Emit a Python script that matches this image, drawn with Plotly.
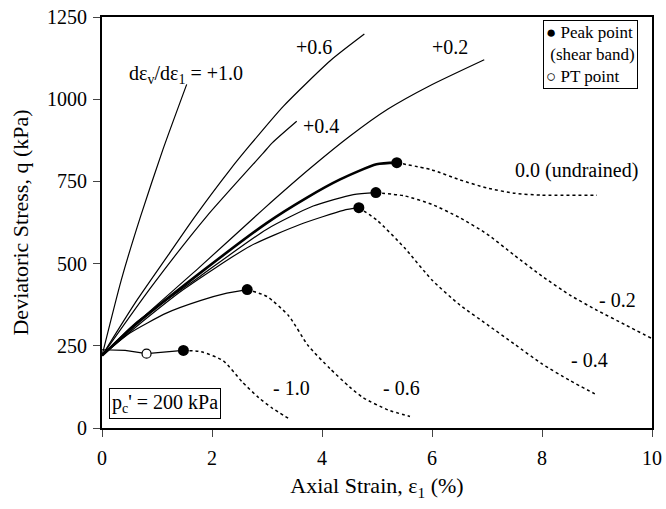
import plotly.graph_objects as go

# ---- data (axial strain %, deviatoric stress kPa) ----
p10_x = [0, 0.35, 0.7, 1.11, 1.54]
p10_q = [220, 450, 643, 848, 1045]

p06_x = [0, 0.6, 1.2, 1.69, 2.33, 2.69, 3.3, 4.15, 4.77]
p06_q = [220, 380, 525, 643, 786, 860, 979, 1117, 1198]

p04_x = [0, 0.9, 1.9, 2.93, 3.1, 3.54]
p04_q = [220, 430, 643, 836, 868, 933]

p02_x = [0, 0.6, 1.78, 2.93, 3.78, 4.51, 5.2, 5.96, 6.95]
p02_q = [220, 315, 490, 665, 789, 888, 970, 1041, 1120]

u00_x = [0, 0.57, 1.78, 3.0, 3.72, 4.33, 4.99, 5.36]
u00_q = [220, 309, 471, 624, 700, 756, 802, 807]
u00_post_x = [5.36, 6.0, 6.5, 7.0, 7.5, 8.0, 9.0]
u00_post_q = [807, 785, 755, 730, 714, 708, 708]

m02_x = [0, 0.6, 1.78, 2.99, 3.84, 4.57, 4.98]
m02_q = [220, 318, 461, 604, 675, 710, 716]
m02_post_x = [4.98, 5.5, 6.0, 6.5, 7.0, 7.5, 8.0, 8.5, 9.0, 9.5, 10.0]
m02_post_q = [716, 706, 680, 640, 590, 525, 462, 405, 358, 315, 272]

m04_x = [0, 0.6, 1.48, 2.69, 3.6, 4.39, 4.67]
m04_q = [220, 305, 421, 553, 619, 662, 670]
m04_post_x = [4.67, 5.0, 5.5, 6.0, 6.5, 7.0, 7.5, 8.0, 8.5, 8.96]
m04_post_q = [670, 632, 548, 450, 375, 315, 255, 195, 145, 104]

m06_x = [0, 0.5, 1.18, 1.8, 2.27, 2.64]
m06_q = [220, 288, 350, 388, 410, 421]
m06_post_x = [2.64, 3.0, 3.4, 3.75, 4.15, 4.5, 4.75, 5.2, 5.6]
m06_post_q = [421, 400, 340, 250, 180, 125, 92, 55, 35]

m10_x = [0, 0.42, 0.81, 1.48]
m10_q = [238, 236, 226, 236]
m10_post_x = [1.48, 1.8, 2.2, 2.55, 2.85, 3.1, 3.4]
m10_post_q = [236, 232, 205, 140, 92, 60, 28]

peak_x = [5.36, 4.98, 4.67, 2.64, 1.48]
peak_q = [807, 716, 670, 421, 236]
pt_x = [0.81]
pt_q = [226]

x_ticks = [0, 2, 4, 6, 8, 10]
y_ticks = [0, 250, 500, 750, 1000, 1250]

FONT = "Liberation Serif, Times New Roman, serif"

fig = go.Figure()

def solid(x, y, w=1.2):
    fig.add_trace(go.Scatter(x=x, y=y, mode="lines",
                             line=dict(color="black", width=w, shape="spline", smoothing=0.6),
                             showlegend=False, hoverinfo="skip"))

def dotted(x, y):
    fig.add_trace(go.Scatter(x=x, y=y, mode="lines",
                             line=dict(color="black", width=1.5, dash="dot", shape="spline", smoothing=0.6),
                             showlegend=False, hoverinfo="skip"))

solid(p10_x, p10_q)
solid(p06_x, p06_q)
solid(p04_x, p04_q)
solid(p02_x, p02_q)
solid(u00_x, u00_q, 2.6)
dotted(u00_post_x, u00_post_q)
solid(m02_x, m02_q)
dotted(m02_post_x, m02_post_q)
solid(m04_x, m04_q)
dotted(m04_post_x, m04_post_q)
solid(m06_x, m06_q)
dotted(m06_post_x, m06_post_q)
fig.add_trace(go.Scatter(x=m10_x, y=m10_q, mode="lines",
                         line=dict(color="black", width=1.2),
                         showlegend=False, hoverinfo="skip"))
dotted(m10_post_x, m10_post_q)

fig.add_trace(go.Scatter(x=peak_x, y=peak_q, mode="markers",
                         marker=dict(color="black", size=11),
                         showlegend=False, hoverinfo="skip"))
fig.add_trace(go.Scatter(x=pt_x, y=pt_q, mode="markers",
                         marker=dict(color="white", size=9, line=dict(color="black", width=1.2)),
                         showlegend=False, hoverinfo="skip"))

labels = [
    (0.45, 1076, "dε<sub>v</sub>/dε<sub>1</sub> = +1.0", "left"),
    (3.86, 1158, "+0.6", "center"),
    (6.33, 1158, "+0.2", "center"),
    (3.99, 918, "+0.4", "center"),
    (8.63, 782, "0.0 (undrained)", "center"),
    (9.37, 390, "- 0.2", "center"),
    (8.87, 207, "- 0.4", "center"),
    (5.45, 122, "- 0.6", "center"),
    (3.45, 122, "- 1.0", "center"),
]
for x, y, t, xa in labels:
    fig.add_annotation(x=x, y=y, text=t, showarrow=False, xanchor=xa, yanchor="middle",
                       font=dict(family=FONT, size=20, color="black"))

fig.add_annotation(x=1.15, y=76, text="p<sub>c</sub>' = 200 kPa", showarrow=False,
                   xanchor="center", yanchor="middle", bordercolor="black", borderwidth=1,
                   borderpad=2, bgcolor="white",
                   font=dict(family=FONT, size=20, color="black"))

fig.add_annotation(x=8.02, y=1241, text="● Peak point<br> (shear band)<br>○ PT point",
                   showarrow=False, xanchor="left", yanchor="top", align="left",
                   bordercolor="black", borderwidth=1, borderpad=2, bgcolor="white",
                   font=dict(family=FONT, size=17, color="black"))

fig.update_layout(
    width=666, height=509,
    margin=dict(l=102, r=14, t=17, b=81),
    plot_bgcolor="white", paper_bgcolor="white",
    font=dict(family=FONT, size=20, color="black"),
    xaxis=dict(range=[0, 10], tickvals=x_ticks, ticks="outside", ticklen=7,
               showline=True, linecolor="black", linewidth=2, mirror=True,
               showgrid=False, zeroline=False, automargin=False,
               ticklabelstandoff=4,
               title=dict(text="Axial Strain, ε<sub>1</sub> (%)", font=dict(size=22), standoff=10),
               tickfont=dict(size=20)),
    yaxis=dict(range=[0, 1250], tickvals=y_ticks, ticks="outside", ticklen=7,
               showline=True, linecolor="black", linewidth=2, mirror=True,
               showgrid=False, zeroline=False, automargin=False,
               ticklabelstandoff=2,
               title=dict(text="Deviatoric Stress, q (kPa)", font=dict(size=22), standoff=12),
               tickfont=dict(size=20)),
)

fig.write_html("out.html")
